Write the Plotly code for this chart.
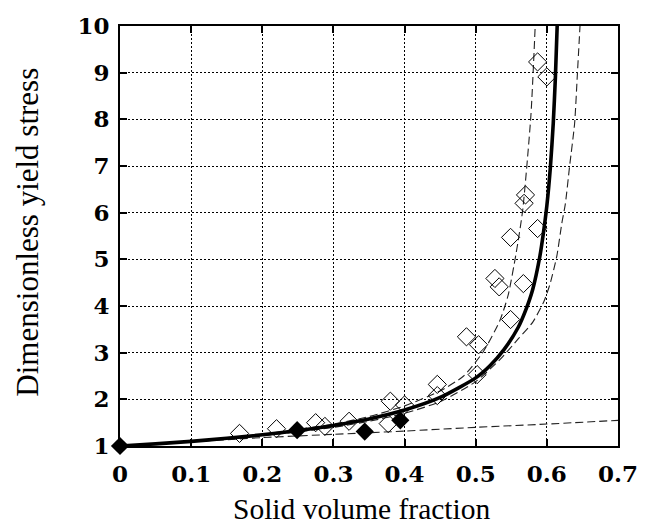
import plotly.graph_objects as go

# Model curves
solid_x = [0, 0.05, 0.1, 0.15, 0.2, 0.25, 0.3, 0.35, 0.4, 0.45, 0.5, 0.52, 0.54, 0.56, 0.57, 0.58, 0.59, 0.595, 0.6, 0.605, 0.609, 0.612, 0.6145]
solid_y = [1.0, 1.045, 1.10, 1.165, 1.24, 1.33, 1.44, 1.58, 1.77, 2.04, 2.46, 2.72, 3.07, 3.55, 3.90, 4.35, 5.05, 5.55, 6.15, 6.98, 7.92, 8.9, 10.0]

dashA_x = [0, 0.1, 0.2, 0.3, 0.35, 0.4, 0.45, 0.483, 0.511, 0.534, 0.5454, 0.5568, 0.566, 0.5776, 0.5836]
dashA_y = [1.0, 1.10, 1.25, 1.47, 1.63, 1.86, 2.18, 2.5, 3.03, 3.69, 4.22, 5.13, 6.05, 8.09, 10.0]

dashB_x = [0, 0.1, 0.2, 0.3, 0.35, 0.4, 0.45, 0.5, 0.534, 0.56, 0.58, 0.596, 0.605, 0.614, 0.621, 0.626, 0.632, 0.639, 0.643, 0.6466]
dashB_y = [1.0, 1.09, 1.22, 1.40, 1.53, 1.70, 1.95, 2.38, 2.85, 3.3, 3.65, 4.1, 4.5, 5.07, 5.77, 6.19, 7.0, 7.91, 9.0, 10.0]

dashC_x = [0, 0.1, 0.2, 0.3, 0.4, 0.5, 0.6, 0.7]
dashC_y = [1.0, 1.09, 1.18, 1.25, 1.32, 1.40, 1.47, 1.55]

# Experimental data
open_x = [0.168, 0.220, 0.275, 0.288, 0.322, 0.377, 0.380, 0.400, 0.446, 0.446, 0.487, 0.502, 0.504,
          0.527, 0.533, 0.549, 0.549, 0.567, 0.568, 0.570, 0.587, 0.587, 0.600]
open_y = [1.27, 1.37, 1.50, 1.42, 1.53, 1.48, 1.96, 1.88, 2.32, 2.08, 3.34, 2.53, 3.17,
          4.59, 4.41, 3.71, 5.47, 4.48, 6.20, 6.38, 5.66, 9.23, 8.91]

filled_x = [0.0, 0.249, 0.344, 0.394]
filled_y = [1.0, 1.34, 1.31, 1.55]

x_ticks = [0, 0.1, 0.2, 0.3, 0.4, 0.5, 0.6, 0.7]
x_tick_labels = ["0", "0.1", "0.2", "0.3", "0.4", "0.5", "0.6", "0.7"]
y_ticks = [1, 2, 3, 4, 5, 6, 7, 8, 9, 10]
y_tick_labels = [str(v) for v in y_ticks]

fig = go.Figure()
dash_style = dict(color="#222222", width=1.1, dash="8px,4px")
for xs, ys in [(dashC_x, dashC_y), (dashA_x, dashA_y), (dashB_x, dashB_y)]:
    fig.add_trace(go.Scatter(x=xs, y=ys, mode="lines", line=dict(shape="spline", smoothing=0.6, **dash_style),
                             showlegend=False, hoverinfo="skip"))
fig.add_trace(go.Scatter(x=solid_x, y=solid_y, mode="lines",
                         line=dict(color="black", width=3.6, shape="spline", smoothing=0.6),
                         showlegend=False))
fig.add_trace(go.Scatter(x=open_x, y=open_y, mode="markers",
                         marker=dict(symbol="diamond-open", size=14, color="black", line=dict(width=1, color="black")),
                         showlegend=False, cliponaxis=False))
fig.add_trace(go.Scatter(x=filled_x, y=filled_y, mode="markers",
                         marker=dict(symbol="diamond", size=14, color="black"),
                         showlegend=False, cliponaxis=False))

tickfont = dict(family="DejaVu Serif", size=23, color="black", weight="bold")
axis_common = dict(showline=True, linecolor="black", linewidth=2, mirror="ticks",
                   ticks="inside", ticklen=7, tickwidth=2, tickcolor="black",
                   showgrid=True, gridcolor="black", gridwidth=1, griddash="2px,2px",
                   zeroline=False, tickfont=tickfont)
fig.update_xaxes(range=[0, 0.7], tickvals=x_ticks, ticktext=x_tick_labels, ticklabelstandoff=6, **axis_common)
fig.update_yaxes(range=[1, 10], tickvals=y_ticks, ticktext=y_tick_labels, ticklabelstandoff=4, **axis_common)

xtitlefont = dict(family="Liberation Serif", size=29.5, color="black")
ytitlefont = dict(family="Liberation Serif", size=31, color="black")
fig.update_layout(
    width=650, height=529,
    margin=dict(l=120, r=23, t=20, b=83),
    paper_bgcolor="white", plot_bgcolor="white",
    annotations=[
        dict(text="Solid volume fraction", xref="paper", yref="paper", x=0.485, y=-0.108,
             xanchor="center", yanchor="top", showarrow=False, font=xtitlefont),
        dict(text="Dimensionless yield stress", xref="paper", yref="paper", x=-0.185, y=0.51,
             xanchor="center", yanchor="middle", showarrow=False, textangle=-90, font=ytitlefont),
    ],
)
fig.write_html("out.html")
